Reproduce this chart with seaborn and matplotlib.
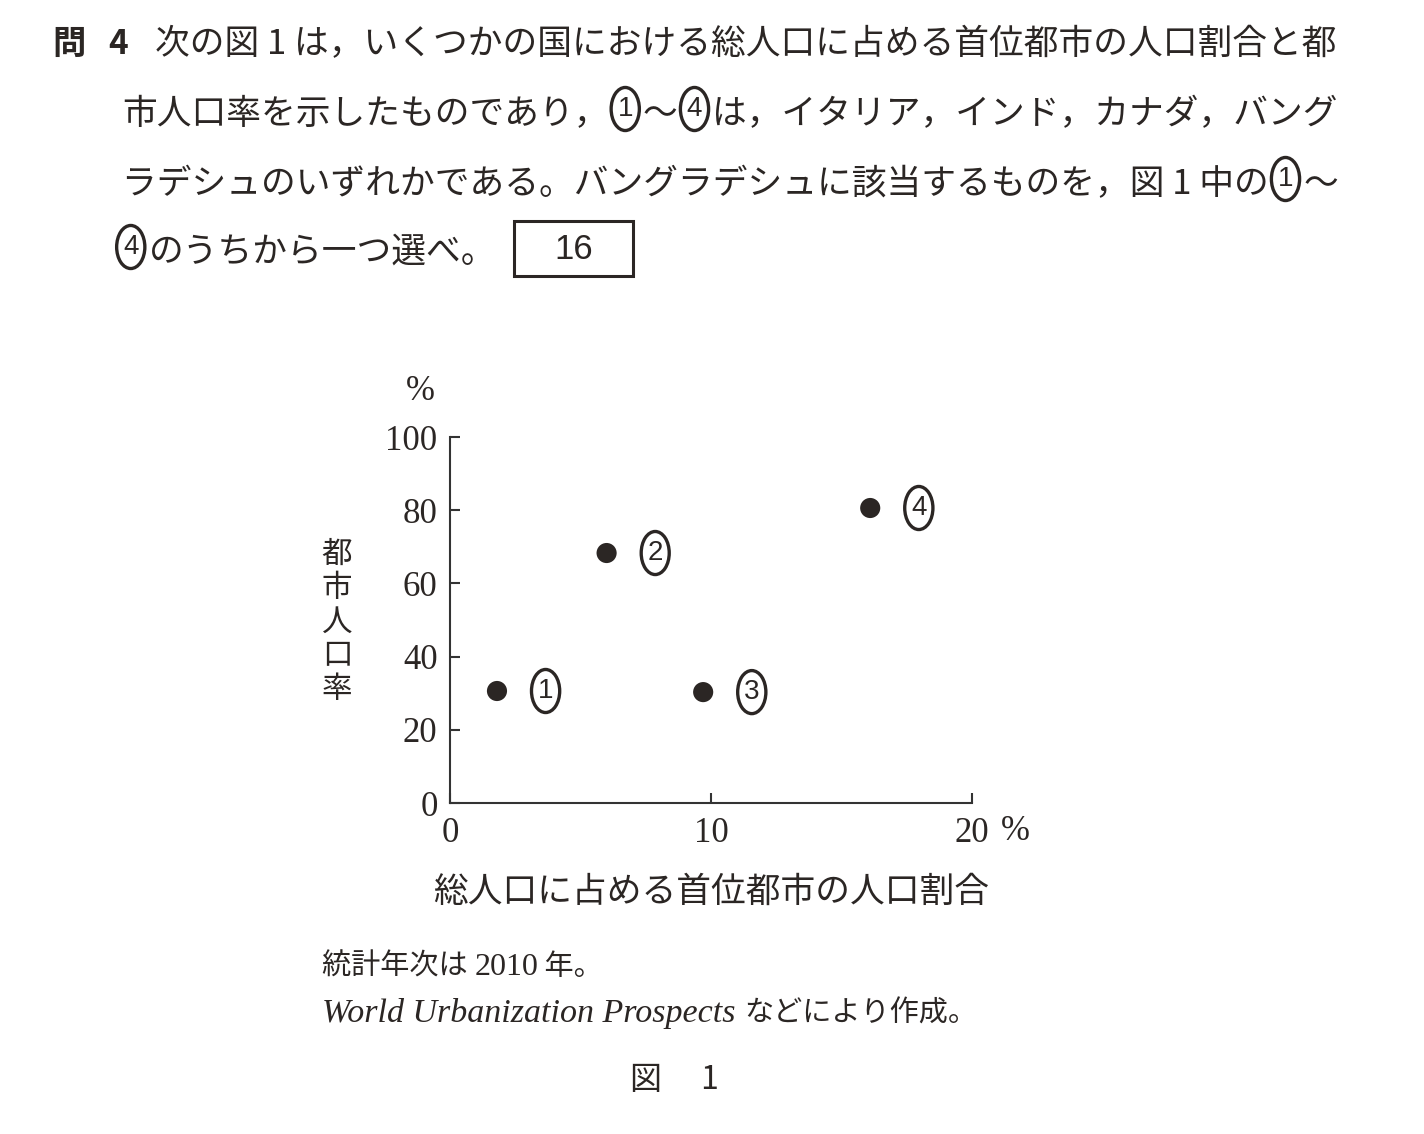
import seaborn as sns
import matplotlib.pyplot as plt
import matplotlib.patches as patches
import pandas as pd

# data
labels = ["1", "2", "3", "4"]             # circled point labels
primate_share = [1.8, 6.0, 9.7, 16.1]     # % of total population in primate city
urban_rate = [30.6, 68.3, 30.3, 80.6]     # urban population rate %
x_ticks = [0, 10, 20]
y_ticks = [0, 20, 40, 60, 80, 100]

df = pd.DataFrame({"label": labels, "primate": primate_share, "urban": urban_rate})

sns.set_style("ticks")
plt.rcParams["font.family"] = ["Noto Sans CJK JP", "DejaVu Sans"]

W, H = 1424, 1134
INK = "#2b2624"
JP = ["Noto Sans CJK JP", "DejaVu Sans"]
SERIF = ["Liberation Serif", "DejaVu Serif"]
OVAL = dict(boxstyle="ellipse,pad=0.08", fc="none", ec=INK, lw=2.4)

fig = plt.figure(figsize=(W / 100, H / 100), dpi=100)
renderer = fig.canvas.get_renderer()


def px(x, y):
    return x / W, 1 - y / H


def put(x, y, s, **kw):
    kw.setdefault("color", INK)
    return fig.text(*px(x, y), s, **kw)


def chain(x, y, parts):
    # write pieces one after another on a common baseline
    for s, kw in parts:
        if kw == "oval":
            t = put(x + 9, y - 15, s, fontsize=20, family=["Liberation Sans"], ha="left",
                    va="center", bbox=OVAL)
            x = t.get_window_extent(renderer).x1 + 10
        else:
            t = put(x, y, s, ha="left", va="baseline", **kw)
            x = t.get_window_extent(renderer).x1


Q = dict(fontsize=25, family=JP)

# question text
put(52, 54, "問", fontsize=24, fontweight="bold", family=JP, va="baseline")
put(108, 54, "4", fontsize=24, fontweight="bold", family=JP, va="baseline")
chain(155, 54, [("次の図 1 は，いくつかの国における総人口に占める首位都市の人口割合と都", Q)])
chain(122, 124, [("市人口率を示したものであり，", Q), ("1", "oval"), ("～", Q), ("4", "oval"),
                 ("は，イタリア，インド，カナダ，バング", Q)])
chain(122, 194, [("ラデシュのいずれかである。バングラデシュに該当するものを，図 1 中の", Q),
                 ("1", "oval"), ("～", Q)])
chain(114, 262, [("4", "oval"), ("のうちから一つ選べ。", Q)])
fig.patches.append(patches.Rectangle(px(514, 276), 119 / W, 55 / H, transform=fig.transFigure,
                                     fill=False, edgecolor=INK, linewidth=2.2))
put(574, 250, "16", fontsize=25, family=["Liberation Sans"], ha="center", va="center")

# chart
ax = fig.add_axes([450 / W, 1 - 803 / H, 522 / W, 366 / H])
sns.scatterplot(data=df, x="primate", y="urban", s=210, color=INK, edgecolor="none",
                legend=False, ax=ax, clip_on=False)
for _, r in df.iterrows():
    ax.annotate(r["label"], (r["primate"], r["urban"]), xytext=(35, 0), textcoords="offset points",
                ha="center", va="center", fontsize=20, family=["Liberation Sans"], color=INK,
                bbox=OVAL)

ax.set_xlim(0, 20)
ax.set_ylim(0, 100)
ax.set_xticks(x_ticks)
ax.set_yticks(y_ticks)
ax.set_xlabel("")
ax.set_ylabel("")
sns.despine(ax=ax)
for sp in ["left", "bottom"]:
    ax.spines[sp].set_color("#333333")
    ax.spines[sp].set_linewidth(1.5)
ax.tick_params(direction="in", length=7, width=1.5, color="#333333", labelcolor=INK)
ax.tick_params(axis="y", pad=9)
ax.tick_params(axis="x", pad=10)
for lab in ax.get_xticklabels() + ax.get_yticklabels():
    lab.set_fontfamily(SERIF)
    lab.set_fontsize(25)

put(420, 392, "%", fontsize=25, family=SERIF, ha="center", va="center")
put(1015, 832, "%", fontsize=25, family=SERIF, ha="center", va="center")
put(337, 622, "\n".join("都市人口率"), fontsize=22, family=JP, ha="center", va="center",
    linespacing=1.12)
put(711, 892, "総人口に占める首位都市の人口割合", fontsize=25, family=JP, ha="center", va="center")

# notes
chain(322, 975, [("統計年次は ", dict(fontsize=21, family=JP)),
                 ("2010", dict(fontsize=23, family=SERIF)),
                 (" 年。", dict(fontsize=21, family=JP))])
chain(322, 1022, [("World Urbanization Prospects ", dict(fontsize=24.5, family=SERIF, style="italic")),
                  ("などにより作成。", dict(fontsize=21, family=JP))])
put(674, 1080, "図\u3000 1", fontsize=23, family=JP, ha="center", va="center")

fig.savefig("out.png", dpi=100, facecolor="white")
